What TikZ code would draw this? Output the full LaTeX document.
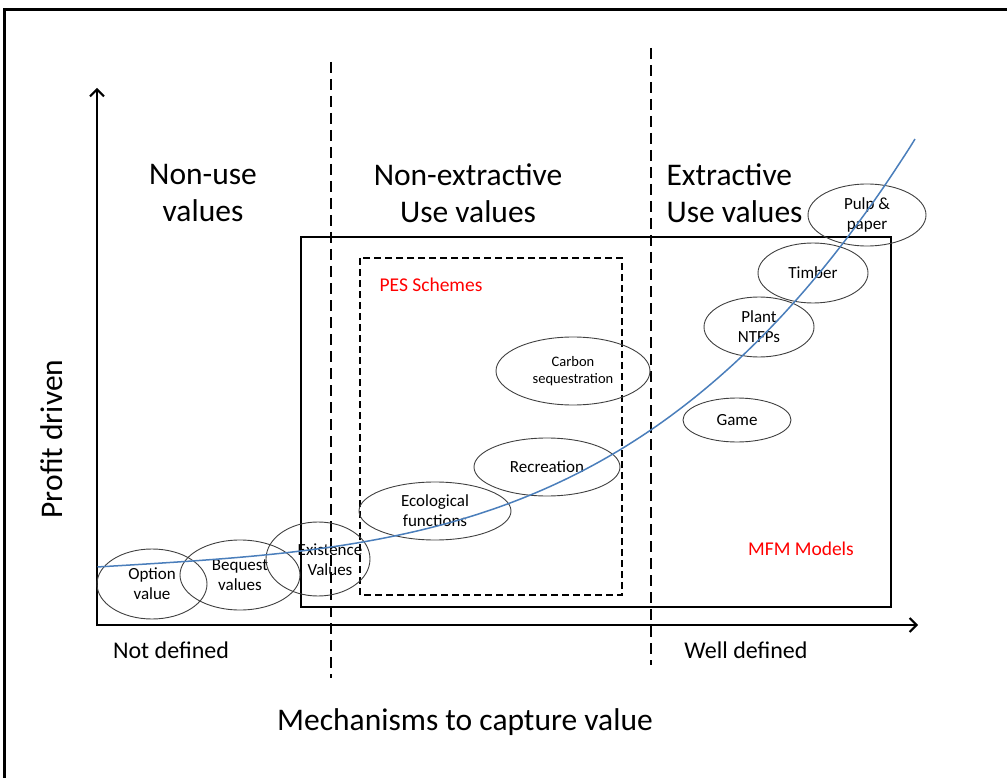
\documentclass[tikz,border=0pt]{standalone}
\usepackage{fontspec}
\setmainfont{Carlito}
\usetikzlibrary{arrows.meta,shapes.geometric}
\definecolor{curveblue}{HTML}{4A7EBB}
\definecolor{ellgray}{HTML}{404040}
\begin{document}
\begin{tikzpicture}[x=1pt,y=-1pt,
  ell/.style={draw=ellgray,line width=0.9pt,ellipse,inner sep=0pt,align=center,font=\fontsize{17}{20}\selectfont},
  head/.style={align=center,font=\fontsize{31.5}{37}\selectfont},
  divider/.style={line width=1.2pt,dash pattern=on 11pt off 6pt},
  axis/.style={line width=2pt,-{Straight Barb[length=7pt,width=14pt,line width=2pt]}},
  redlbl/.style={text=red,font=\fontsize{19.5}{22}\selectfont},
  small/.style={font=\fontsize{24}{26}\selectfont},
  big/.style={font=\fontsize{31.5}{34}\selectfont}]
\useasboundingbox (0,0) rectangle (1007,778);
% outer frame
\draw[line width=3pt] (4,778) -- (4,10) -- (1007,10);
% MFM rectangle
\draw[line width=1.3pt] (301,237) rectangle (891,607);
% PES rectangle
\draw[line width=2.4pt,dash pattern=on 7pt off 4pt] (360,258) rectangle (622,595);
% dividers
\coordinate (d1t) at (331,62); \coordinate (d1b) at (331,678);
\coordinate (d2t) at (651,48); \coordinate (d2b) at (651,665);
\draw[divider] (d1t) -- (d1b);
\draw[divider] (d2t) -- (d2b);
% axes
\coordinate (ybot) at (97,626);
\coordinate (ytop) at (97,88);
\coordinate (xbeg) at (96,625);
\coordinate (xend) at (918,625);
\draw[axis] (ybot) -- (ytop);
\draw[axis] (xbeg) -- (xend);
% headings
\node[head] (h1) at (203,193) {Non-use\\values};
\node[head] (h2) at (468,193) {Non-extractive\\Use values};
\node[head,align=left,anchor=west] (h3) at (663,193) {Extractive\\Use values};
% red labels
\node[redlbl] (pes) at (431,285) {PES Schemes};
\node[redlbl] (mfm) at (801,549) {MFM Models};
% ellipses
\node[ell,minimum width=110pt,minimum height=70pt] (opt) at (152,584) {Option\\value};
\node[ell,minimum width=120pt,minimum height=70pt] (beq) at (240,575) {Bequest\\values};
\node[ell,minimum width=104pt,minimum height=74pt] (exi) at (318,559) {};
\node[align=center,font=\fontsize{17}{20}\selectfont] (exit) at (330,560) {Existence\\Values};
\node[ell,minimum width=152pt,minimum height=58pt] (eco) at (435,511) {Ecological\\functions};
\node[ell,minimum width=146pt,minimum height=58pt] (rec) at (547,467) {Recreation};
\node[ell,minimum width=154pt,minimum height=68pt,font=\fontsize{14.5}{17}\selectfont] (car) at (573,371) {Carbon\\sequestration};
\node[ell,minimum width=108pt,minimum height=44pt] (game) at (737,420) {Game};
\node[ell,minimum width=110pt,minimum height=60pt] (ntfp) at (759,327) {Plant\\NTFPs};
\node[ell,minimum width=110pt,minimum height=60pt] (tim) at (813,273) {Timber};
\node[ell,minimum width=118pt,minimum height=62pt] (pulp) at (867,215) {Pulp \&\\paper};
% curve
\draw[curveblue,line width=1.5pt] plot[domain=97.5:915,samples=150] (\x,{567-0.06*(\x-97)-39.2*((\x-97)/413)^3.32});
% axis labels
\node[small] (nd) at (171,650) {Not defined};
\node[small] (wd) at (746,650) {Well defined};
\node[big] (xl) at (465,722) {Mechanisms to capture value};
\node[big,rotate=90] (yl) at (52,439) {Profit driven};
\end{tikzpicture}
\end{document}
